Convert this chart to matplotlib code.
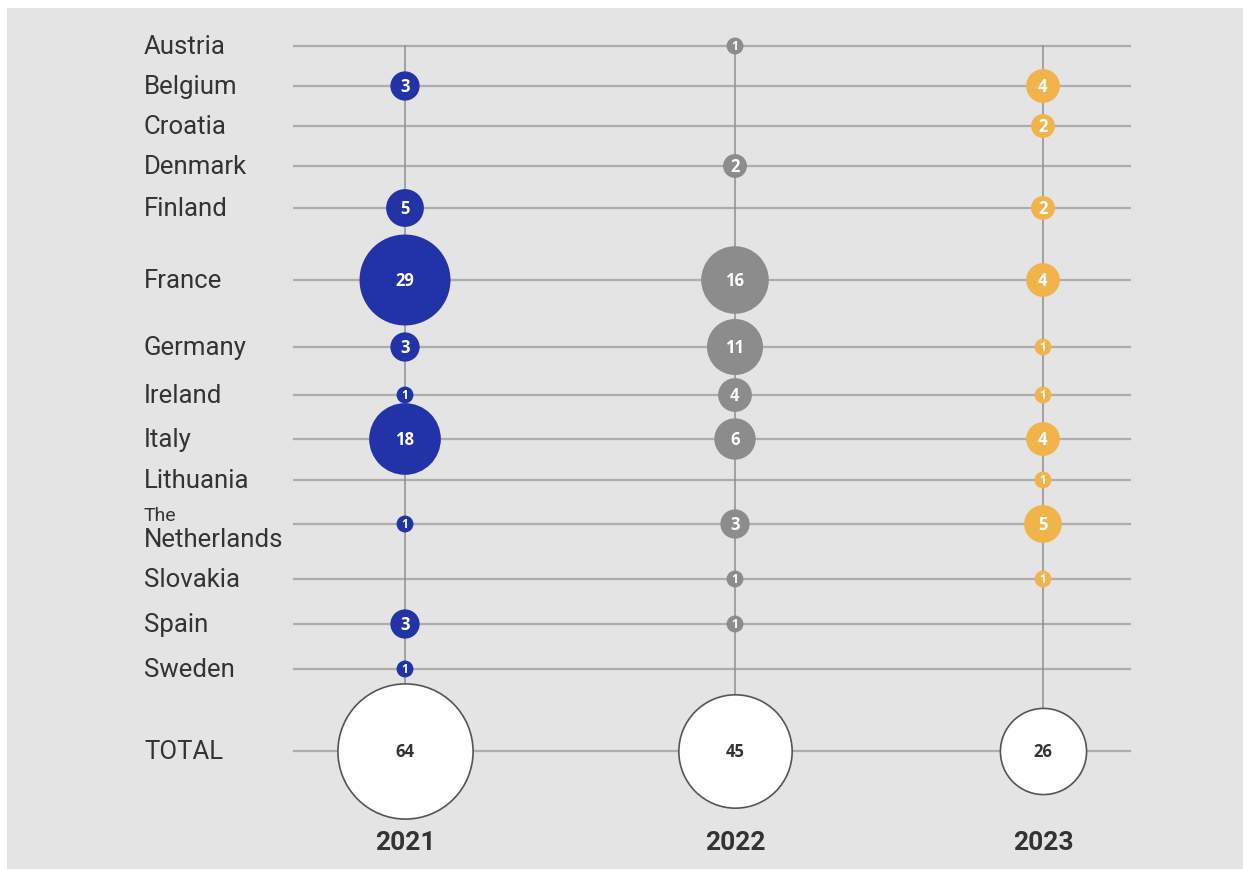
import matplotlib
import matplotlib.pyplot as plt
import matplotlib.patches as mpatches

matplotlib.use("Agg")

# data
countries = ["Austria", "Belgium", "Croatia", "Denmark", "Finland", "France",
             "Germany", "Ireland", "Italy", "Lithuania", "Netherlands",
             "Slovakia", "Spain", "Sweden"]
years = ["2021", "2022", "2023"]
counts_2021 = [0, 3, 0, 0, 5, 29, 3, 1, 18, 0, 1, 0, 3, 1]
counts_2022 = [1, 0, 0, 2, 0, 16, 11, 4, 6, 0, 3, 1, 1, 0]
counts_2023 = [0, 4, 2, 0, 2, 4, 1, 1, 4, 1, 5, 1, 0, 0]
totals = [64, 45, 26]

# layout (pixel units of a 1243x870 canvas)
row_y = [47, 87, 127, 167, 209, 281, 348, 396, 440, 481, 525, 580, 625, 670]
total_y = 752
col_x = [405, 735, 1043]
line_x0, line_x1 = 294, 1130
label_x = 144
year_y = 843

colors = ["#2233a8", "#8c8c8c", "#f0b44b"]
BG = "#e4e4e4"
TXT = "#333333"
SIZE_K = 148  # scatter area per unit

fig = plt.figure(figsize=(12.43, 8.70), dpi=100, facecolor="white")
ax = fig.add_axes([0, 0, 1, 1])
ax.set_xlim(0, 1243)
ax.set_ylim(870, 0)
ax.axis("off")

ax.add_patch(mpatches.Rectangle((7, 9), 1250, 870, facecolor=BG,
                                edgecolor="none", zorder=0))

# grid lines
for y in row_y + [total_y]:
    ax.plot([line_x0, line_x1], [y, y], color="#adadad", lw=1.6, zorder=1)
for x in col_x:
    ax.plot([x, x], [row_y[0], total_y], color="#8e8e8e", lw=1.1, zorder=1)

# country labels
for name, y in zip(countries, row_y):
    if name == "Netherlands":
        ax.text(label_x, y - 9, "The", fontsize=14, family="Roboto",
                color=TXT, ha="left", va="center")
        ax.text(label_x, y + 15, name, fontsize=18.5, family="Roboto",
                color=TXT, ha="left", va="center")
    else:
        ax.text(label_x, y, name, fontsize=18.5, family="Roboto",
                color=TXT, ha="left", va="center")
ax.text(label_x, total_y, "TOTAL", fontsize=18.5, family="Roboto",
        color=TXT, ha="left", va="center")

# bubbles
for x, vals, c in zip(col_x, [counts_2021, counts_2022, counts_2023], colors):
    for y, v in zip(row_y, vals):
        if v == 0:
            continue
        ax.scatter([x], [y], s=SIZE_K * v, color=c, edgecolors="none", zorder=3)
        fs = 8.5 if v == 1 else 12
        ax.text(x, y, str(v), fontsize=fs, family="Open Sans",
                fontweight="bold", color="white", ha="center",
                va="center", zorder=4)

for x, t, yr in zip(col_x, totals, years):
    ax.scatter([x], [total_y], s=SIZE_K * t, color="white",
               edgecolors="#555555", linewidths=1.2, zorder=3)
    ax.text(x, total_y, str(t), fontsize=12, family="Open Sans",
            fontweight="bold", color=TXT, ha="center", va="center", zorder=4)
    ax.text(x, year_y, yr, fontsize=19, family="Roboto", fontweight="bold",
            color=TXT, ha="center", va="center")

fig.savefig("out.png", dpi=100, facecolor="white")
